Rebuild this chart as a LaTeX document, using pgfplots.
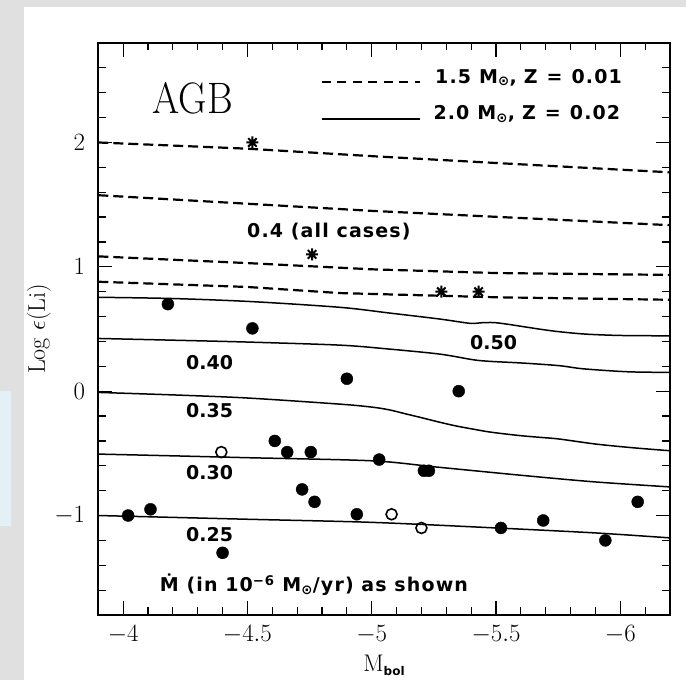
\documentclass[border=0pt]{standalone}
\usepackage{fontspec}
\usepackage{graphicx}
\usepackage{pgfplots}
\pgfplotsset{compat=1.18}
\newfontfamily\annot[LetterSpace=6]{DejaVu Sans}
\newfontfamily\annotn{DejaVu Sans}
\definecolor{bggrey}{RGB}{224,224,224}
\definecolor{bgblue}{RGB}{227,240,245}
\pgfdeclareplotmark{star8}{%
  \pgfpathmoveto{\pgfqpoint{-\pgfplotmarksize}{0pt}}\pgfpathlineto{\pgfqpoint{\pgfplotmarksize}{0pt}}%
  \pgfpathmoveto{\pgfqpoint{0pt}{-\pgfplotmarksize}}\pgfpathlineto{\pgfqpoint{0pt}{\pgfplotmarksize}}%
  \pgfpathmoveto{\pgfqpoint{-.707\pgfplotmarksize}{-.707\pgfplotmarksize}}\pgfpathlineto{\pgfqpoint{.707\pgfplotmarksize}{.707\pgfplotmarksize}}%
  \pgfpathmoveto{\pgfqpoint{-.707\pgfplotmarksize}{.707\pgfplotmarksize}}\pgfpathlineto{\pgfqpoint{.707\pgfplotmarksize}{-.707\pgfplotmarksize}}%
  \pgfusepathqstroke}
\begin{document}
\begin{tikzpicture}[x=1pt,y=1pt]
\useasboundingbox (0,0) rectangle (686,680);
\fill[bggrey] (0,0) rectangle (686,680);
\fill[white] (24,0) rectangle (686,673);
\fill[bgblue] (0,154.3) rectangle (11,289);
\begin{axis}[
  at={(98.3pt,65pt)}, anchor=south west, scale only axis,
  width=571.7pt, height=572pt,
  x dir=reverse, xmin=-6.2, xmax=-3.9, ymin=-1.8, ymax=2.8,
  xtick={-6,-5.5,-5,-4.5,-4},
  minor xtick={-6.1,-5.9,-5.8,-5.7,-5.6,-5.4,-5.3,-5.2,-5.1,-4.9,-4.8,-4.7,-4.6,-4.4,-4.3,-4.2,-4.1},
  ytick={-1,0,1,2},
  minor ytick={-1.6,-1.4,-1.2,-0.8,-0.6,-0.4,-0.2,0.2,0.4,0.6,0.8,1.2,1.4,1.6,1.8,2.2,2.4,2.6},
  tick align=inside, major tick length=14pt, minor tick length=7.5pt,
  every tick/.style={black, line width=1.2pt},
  axis line style={line width=1.6pt},
  xticklabel style={font=\fontsize{24}{28}\selectfont, inner sep=0pt, anchor=north, yshift=-10pt},
  yticklabel style={font=\fontsize{24}{28}\selectfont, inner sep=0pt, anchor=east, xshift=-13pt},
]
% dashed models: 1.5 Msun, Z=0.01
\addplot[black, line width=2.2pt, dash pattern=on 10pt off 5pt] coordinates {(-3.9,2.0) (-4.5,1.95) (-5.0,1.89) (-5.5,1.835) (-6.2,1.76)};
\addplot[black, line width=2.2pt, dash pattern=on 10pt off 5pt] coordinates {(-3.9,1.576) (-5.0,1.45) (-6.2,1.335)};
\addplot[black, line width=2.2pt, dash pattern=on 10pt off 5pt] coordinates {(-3.9,1.084) (-4.5,1.03) (-5.0,0.98) (-5.5,0.95) (-6.2,0.935)};
\addplot[black, line width=2.2pt, dash pattern=on 10pt off 5pt] coordinates {(-3.9,0.88) (-4.5,0.838) (-4.87,0.789) (-5.3,0.766) (-5.5,0.755) (-6.2,0.735)};
% solid models: 2.0 Msun, Z=0.02
\addplot[black, line width=1.5pt, smooth, tension=0.5] coordinates {(-3.9,0.755) (-4.2,0.745) (-4.52,0.72) (-4.874,0.674) (-5.073,0.628) (-5.274,0.58) (-5.394,0.546) (-5.44,0.55) (-5.488,0.552) (-5.541,0.54) (-5.675,0.499) (-5.755,0.478) (-5.86,0.459) (-6.0,0.448) (-6.2,0.445)};
\addplot[black, line width=1.5pt, smooth, tension=0.5] coordinates {(-3.9,0.424) (-4.2,0.41) (-4.5,0.395) (-4.874,0.37) (-5.073,0.338) (-5.274,0.298) (-5.407,0.253) (-5.474,0.24) (-5.608,0.226) (-5.755,0.205) (-5.85,0.18) (-6.03,0.156) (-6.2,0.151)};
\addplot[black, line width=1.5pt, smooth, tension=0.5] coordinates {(-3.9,-0.01) (-4.2,-0.03) (-4.5,-0.055) (-4.87,-0.104) (-5.0,-0.128) (-5.07,-0.15) (-5.14,-0.184) (-5.21,-0.218) (-5.274,-0.25) (-5.34,-0.28) (-5.407,-0.305) (-5.47,-0.327) (-5.541,-0.345) (-5.61,-0.36) (-5.675,-0.371) (-5.755,-0.385) (-5.90,-0.425) (-6.05,-0.455) (-6.2,-0.479)};
\addplot[black, line width=1.5pt, smooth, tension=0.5] coordinates {(-3.9,-0.506) (-4.2,-0.52) (-4.5,-0.535) (-5.0,-0.56) (-5.26,-0.61) (-5.62,-0.68) (-5.9,-0.73) (-6.2,-0.77)};
\addplot[black, line width=1.5pt, smooth, tension=0.5] coordinates {(-3.9,-1.0) (-4.5,-1.03) (-5.0,-1.055) (-5.5,-1.10) (-5.9,-1.14) (-6.2,-1.18)};
% filled circles
\addplot[only marks, mark=*, mark size=6pt, black] coordinates {
(-4.02,-1.0) (-4.11,-0.95) (-4.18,0.70) (-4.52,0.505) (-4.40,-1.30) (-4.61,-0.40)
(-4.66,-0.49) (-4.755,-0.49) (-4.72,-0.79) (-4.77,-0.89) (-4.90,0.10) (-4.94,-0.99)
(-5.03,-0.55) (-5.21,-0.64) (-5.23,-0.64) (-5.35,0.0) (-5.52,-1.10) (-5.69,-1.04)
(-5.94,-1.20) (-6.07,-0.89)};
% open circles
\addplot[only marks, mark=o, mark size=5.5pt, black, line width=1.6pt] coordinates {
(-4.395,-0.49) (-5.08,-0.99) (-5.20,-1.10)};
% stars
\addplot[only marks, mark=star8, mark size=6pt, black, line width=2pt] coordinates {
(-4.52,2.0) (-4.76,1.10) (-5.28,0.80) (-5.43,0.80)};
\end{axis}
% title-like label
\node[anchor=base, inner sep=0pt] at (192.5,566.7) {\scalebox{0.89}[1]{\fontsize{44}{48}\selectfont AGB}};
% legend
\draw[black, line width=2.2pt, dash pattern=on 9pt off 6.5pt] (321.7,597.7) -- (420,597.7);
\draw[black, line width=1.6pt] (321.7,561) -- (420,561);
\node[anchor=base west, inner sep=0pt] at (435,596.7) {\fontsize{19}{22}\annot\bfseries 1.5\hspace{8pt}M\textsubscript{⊙},\hspace{7pt}Z\hspace{9pt}=\hspace{9pt}0.01};
\node[anchor=base west, inner sep=0pt] at (433.3,560) {\fontsize{19}{22}\annot\bfseries 2.0\hspace{8pt}M\textsubscript{⊙},\hspace{7pt}Z\hspace{9pt}=\hspace{9pt}0.02};
% curve labels
\node[anchor=base west, inner sep=0pt] at (247,442.7) {\fontsize{19}{22}\annot\bfseries 0.4 (all cases)};
\node[anchor=base west, inner sep=0pt] at (470,330) {\fontsize{19}{22}\annotn\bfseries 0.50};
\node[anchor=base west, inner sep=0pt] at (186,310) {\fontsize{19}{22}\annotn\bfseries 0.40};
\node[anchor=base west, inner sep=0pt] at (186,262.7) {\fontsize{19}{22}\annotn\bfseries 0.35};
\node[anchor=base west, inner sep=0pt] at (186,200) {\fontsize{19}{22}\annotn\bfseries 0.30};
\node[anchor=base west, inner sep=0pt] at (186,138.3) {\fontsize{19}{22}\annotn\bfseries 0.25};
\node[anchor=base west, inner sep=0pt] at (159.7,88.3) {\fontsize{19}{22}\annot\bfseries Ṁ (in 10\textsuperscript{−6} M\textsubscript{⊙}/yr) as shown};
% axis labels
\node[rotate=90, anchor=center, inner sep=0pt] at (39,351) {\fontsize{24}{28}\selectfont Log $\epsilon$(Li)};
\node[anchor=base, inner sep=0pt] at (384,8.3) {\fontsize{24}{28}\selectfont M\raisebox{-3.5pt}{\fontsize{12}{12}\annotn\bfseries bol}};
\end{tikzpicture}
\end{document}
